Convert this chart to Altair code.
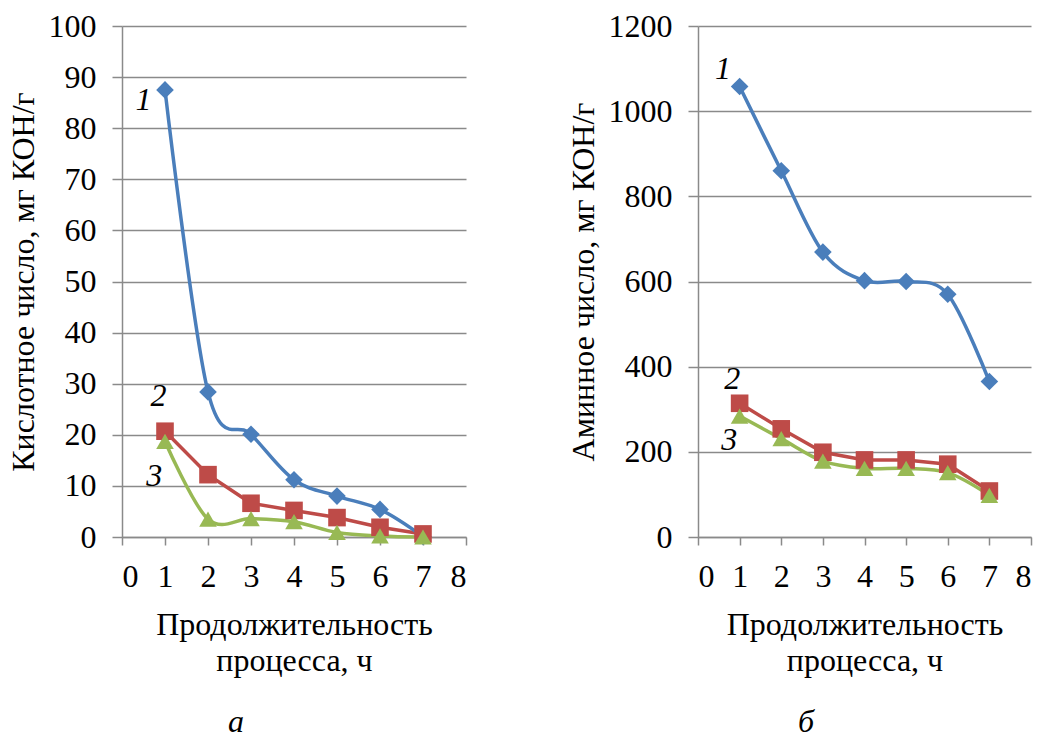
import altair as alt
import pandas as pd

hours = [1, 2, 3, 4, 5, 6, 7]
acid_1 = [87.5, 28.4, 20.1, 11.2, 8.0, 5.4, 0.1]
acid_2 = [20.7, 12.2, 6.6, 5.2, 3.8, 1.9, 0.6]
acid_3 = [18.7, 3.5, 3.6, 3.0, 0.9, 0.2, 0.0]
amine_1 = [1058, 860, 669, 602, 600, 570, 365]
amine_2 = [314, 254, 199, 181, 181, 171, 108]
amine_3 = [284, 231, 178, 161, 161, 151, 98]

x_ticks = list(range(0, 9))
acid_ticks = list(range(0, 101, 10))
amine_ticks = list(range(0, 1201, 200))

series_names = ["1", "2", "3"]
colors = ["#4A7EBB", "#BE4B48", "#98B954"]
shapes = ["diamond", "square", "triangle-up"]
smooth_series = ["1", "3"]

acid_label_x = [0.5, 0.85, 0.75]
acid_label_y = [85.5, 27.5, 12.0]
amine_label_x = [0.6, 0.82, 0.75]
amine_label_y = [1100, 370, 228]

x_title = ["Продолжительность", "процесса, ч"]
acid_title = "Кислотное число, мг КОН/г"
amine_title = "Аминное число, мг КОН/г"
letters = ["а", "б"]

FONT = "Liberation Serif"
FS = 32
GRAY = "#8a8a8a"
H = 511

axis_style = dict(
    labelFont=FONT, labelFontSize=FS, labelColor="black",
    titleFont=FONT, titleFontSize=FS, titleFontWeight="normal", titleColor="black",
    domainColor=GRAY, domainWidth=1.5, tickColor=GRAY, tickWidth=1.5,
    gridColor=GRAY, gridWidth=1.5, format="d",
)


def long_df(series_lists):
    rows = []
    for name, vals in zip(series_names, series_lists):
        for h, v in zip(hours, vals):
            rows.append({"hour": h, "value": v, "series": name})
    return pd.DataFrame(rows)


def panel(series_lists, lab_x, lab_y, ymax, yticks, ytitle, width, letter, letter_x):
    df = long_df(series_lists)
    lab = pd.DataFrame({"hour": lab_x, "value": lab_y, "series": series_names})
    x = alt.X("hour:Q", scale=alt.Scale(domain=[0, 8], nice=False),
              axis=alt.Axis(values=x_ticks, title=x_title, grid=False,
                            tickSize=8, labelPadding=16, titlePadding=17,
                            titleLineHeight=36, **axis_style))
    y = alt.Y("value:Q", scale=alt.Scale(domain=[0, ymax], nice=False),
              axis=alt.Axis(values=yticks, title=ytitle, grid=True,
                            tickSize=10, labelPadding=16, titlePadding=8, **axis_style))
    color = alt.Color("series:N", scale=alt.Scale(domain=series_names, range=colors), legend=None)
    base = alt.Chart(df).encode(x=x, y=y, color=color)
    smooth = base.transform_filter(
        alt.FieldOneOfPredicate(field="series", oneOf=smooth_series)
    ).mark_line(interpolate="cardinal", strokeWidth=3.5)
    straight = base.transform_filter(
        {"not": alt.FieldOneOfPredicate(field="series", oneOf=smooth_series)}
    ).mark_line(strokeWidth=3.5)
    pts = base.mark_point(filled=True, size=310, opacity=1).encode(
        shape=alt.Shape("series:N", scale=alt.Scale(domain=series_names, range=shapes), legend=None)
    )
    labels = alt.Chart(lab).mark_text(font=FONT, fontSize=FS, fontStyle="italic",
                                      color="black", baseline="middle", align="center").encode(
        x=alt.X("hour:Q"), y=alt.Y("value:Q"), text="series:N"
    )
    let = alt.Chart(pd.DataFrame({"t": [letter]})).mark_text(
        font=FONT, fontSize=FS, fontStyle="italic", color="black",
        baseline="alphabetic", align="center").encode(
        x=alt.value(letter_x), y=alt.value(706), text="t:N")
    return alt.layer(straight, smooth, pts, labels, let).properties(width=width, height=H)


left = panel([acid_1, acid_2, acid_3], acid_label_x, acid_label_y, 100, acid_ticks,
             acid_title, 344, letters[0], 114)
right = panel([amine_1, amine_2, amine_3], amine_label_x, amine_label_y, 1200, amine_ticks,
              amine_title, 333, letters[1], 108)

chart = alt.hconcat(left, right, spacing=100).resolve_scale(
    y="independent", color="independent", shape="independent"
).properties(
    padding={"left": 7, "top": 10, "right": 5, "bottom": 0}
).configure_view(stroke=None).configure_axis(**axis_style)

chart.save("out.html", embed_options={"renderer": "svg", "actions": False})
